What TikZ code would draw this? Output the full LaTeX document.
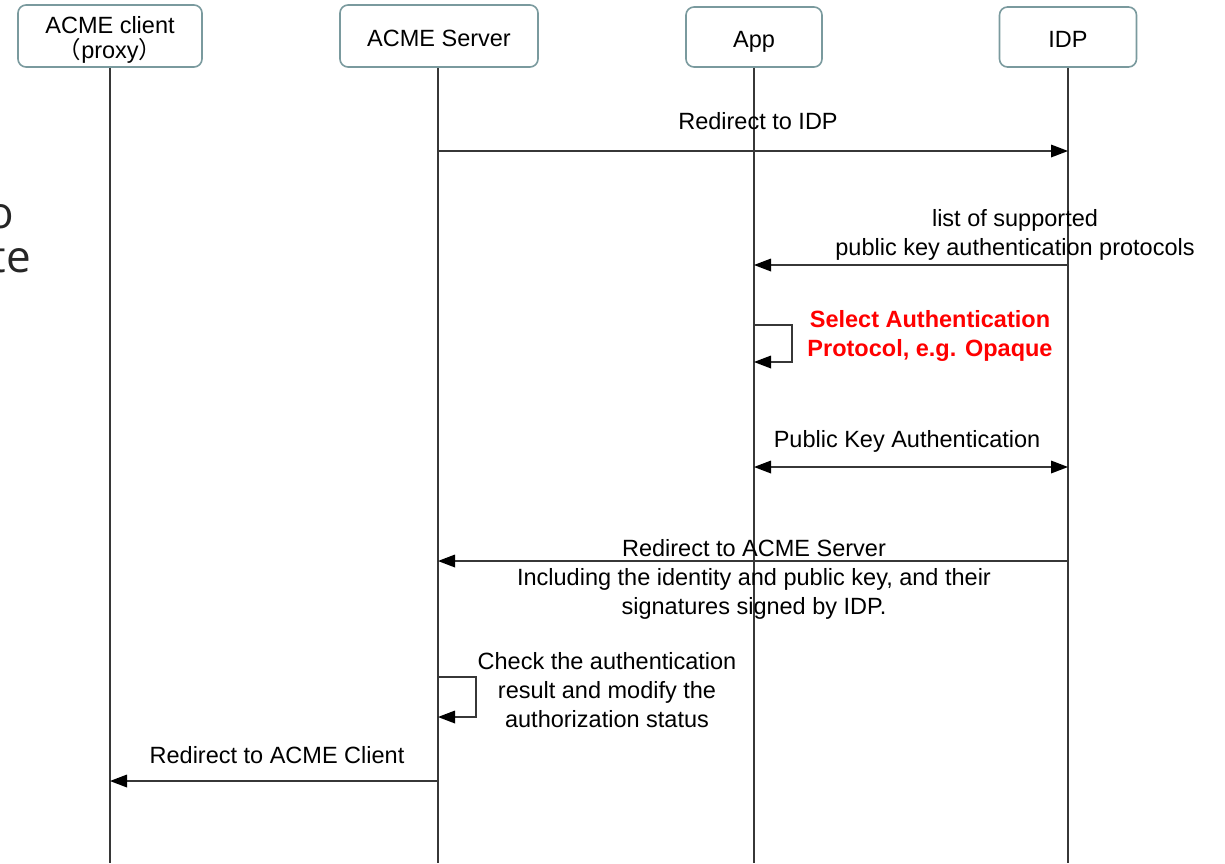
\documentclass[tikz,border=0pt]{standalone}
\usepackage{fontspec}
\setmainfont{Liberation Sans}
\newfontfamily\cjk{Noto Sans CJK SC}
\newfontfamily\bigsans{Open Sans}
\usetikzlibrary{arrows.meta}
\definecolor{boxline}{RGB}{122,154,158}
\definecolor{wire}{RGB}{55,55,55}
\tikzset{
  tip/.tip={Triangle[length=17pt,width=13pt,fill=black,line width=0pt]},
  actor/.style={draw=boxline, line width=1.6pt, rounded corners=8pt, fill=white,
    align=center, inner sep=0pt, font=\fontsize{23.5}{25}\selectfont},
  oneline/.style={text height=20pt, text depth=0pt},
  life/.style={draw=wire, line width=1.4pt},
  msg/.style={draw=wire, line width=1.3pt, -tip},
  dmsg/.style={draw=wire, line width=1.3pt, tip-tip},
  lbl/.style={align=center, inner sep=0pt, font=\fontsize{23.5}{29}\selectfont},
  redlbl/.style={lbl, text=red, font=\fontsize{23.5}{29}\selectfont\bfseries},
  frag/.style={anchor=base east, inner sep=0pt, font=\bigsans\fontsize{44}{44}\selectfont, text=black!85},
}
\begin{document}
\begin{tikzpicture}[x=1pt, y=-1pt]
\useasboundingbox (0,0) rectangle (1225,863);
\clip (0,0) rectangle (1225,863);

% participants
\node[actor, minimum width=184pt, minimum height=62pt] (client) at (110,36)
  {\rule{0pt}{25pt}ACME client\\{\cjk （}proxy{\cjk ）}};
\node[actor, oneline, minimum width=198pt, minimum height=62pt] (server) at (439,36) {ACME Server};
\node[actor, oneline, minimum width=136pt, minimum height=60pt] (app) at (754,37) {App};
\node[actor, oneline, minimum width=137pt, minimum height=60pt] (idp) at (1068,37) {IDP};

% lifeline ends
\coordinate (clientEnd) at (110,863);
\coordinate (serverEnd) at (438,863);
\coordinate (appEnd) at (754,863);
\coordinate (idpEnd) at (1068,863);
\draw[life] (client.south -| clientEnd) -- (clientEnd);
\draw[life] (server.south -| serverEnd) -- (serverEnd);
\draw[life] (app.south -| appEnd) -- (appEnd);
\draw[life] (idp.south -| idpEnd) -- (idpEnd);

% text fragments at the left edge
\node[frag] (fragA) at (14,228) {o};
\node[frag] (fragB) at (31,272) {te};

% message endpoints
\coordinate (m1s) at (438,151);  \coordinate (m1e) at (1068,151);
\coordinate (m2s) at (1068,265); \coordinate (m2e) at (754,265);
\coordinate (m3s) at (754,325);  \coordinate (m3e) at (754,362);
\coordinate (m4s) at (754,467);  \coordinate (m4e) at (1068,467);
\coordinate (m5s) at (1068,561); \coordinate (m5e) at (438,561);
\coordinate (m6s) at (438,677);  \coordinate (m6e) at (438,717);
\coordinate (m7s) at (438,781);  \coordinate (m7e) at (110,781);

% messages
\draw[msg] (m1s) -- (m1e);
\draw[msg] (m2s) -- (m2e);
\draw[msg] (m3s) -- ++(38,0) |- (m3e);
\draw[dmsg] (m4s) -- (m4e);
\draw[msg] (m5s) -- (m5e);
\draw[msg] (m6s) -- ++(38,0) |- (m6e);
\draw[msg] (m7s) -- (m7e);

% labels
\node[lbl] (l1) at (758,121) {Redirect to IDP};
\node[lbl] (l2) at (1015,235) {list of supported\\public key authentication protocols};
\node[redlbl] (l3) at (930,335.5) {Select Authentication\\Protocol, e.g. Opaque};
\node[lbl] (l4) at (907,441) {Public Key Authentication};
\node[lbl] (l5) at (754,579) {Redirect to ACME Server\\Including the identity and public key, and their\\signatures signed by IDP.};
\node[lbl] (l6) at (607,690) {Check the authentication\\result and modify the\\authorization status};
\node[lbl] (l7) at (277,755) {Redirect to ACME Client};
\end{tikzpicture}
\end{document}
